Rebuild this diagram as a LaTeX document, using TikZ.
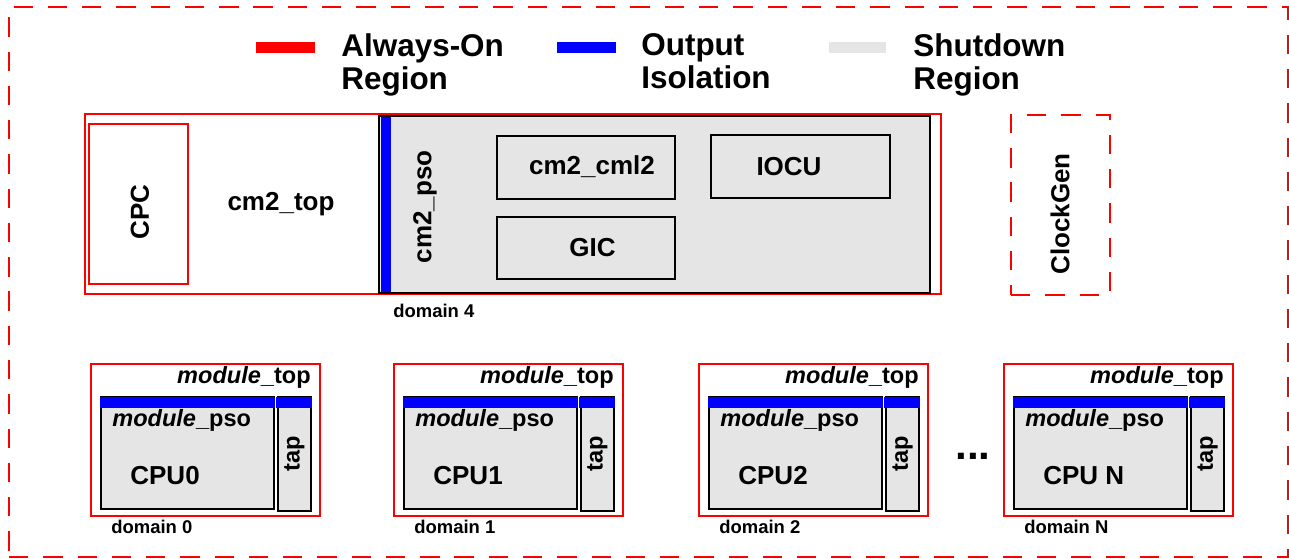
\documentclass[tikz,border=0pt]{standalone}
\usepackage{fontspec}
\setmainfont{Liberation Sans}
\definecolor{shutgray}{RGB}{229,229,229}

\begin{document}
\begin{tikzpicture}[line join=miter,
  box/.style={rectangle,inner sep=0pt,outer sep=0pt},
  aon/.style={box,draw=red,line width=.75pt},
  pso/.style={box,draw=black,fill=shutgray,line width=.85pt},
  blk/.style={box,draw=black,line width=.85pt},
  iso/.style={box,fill=blue},
  dashbox/.style={box,draw=red,line width=1.1pt,dash pattern=on 11pt off 8.5pt},
  lbl/.style={inner sep=0pt,font=\fontsize{14.8}{17}\selectfont\bfseries},
  modlbl/.style={inner sep=0pt,font=\fontsize{13.4}{15}\selectfont\bfseries},
  domlbl/.style={inner sep=0pt,font=\fontsize{10.5}{12}\selectfont\bfseries},
  legtxt/.style={inner sep=0pt,align=left,anchor=west,font=\fontsize{17.9}{18.8}\selectfont\bfseries}]
\path[use as bounding box] (0,0) rectangle (25.78,11.18);
\node[dashbox,minimum width=25.58cm,minimum height=11.00cm] (chip) at (12.97,5.54) {};
% legend
\node[iso,fill=red,minimum width=1.18cm,minimum height=.22cm] (legaon) at (5.71,10.23) {};
\node[legtxt] (legaontxt) at (6.82,9.88) {Always-On\\Region};
\node[iso,minimum width=1.18cm,minimum height=.22cm] (legiso) at (11.73,10.23) {};
\node[legtxt] (legisotxt) at (12.82,9.95) {Output\\Isolation};
\node[iso,fill=shutgray,minimum width=1.14cm,minimum height=.22cm] (legshut) at (17.15,10.23) {};
\node[legtxt] (legshuttxt) at (18.26,9.88) {Shutdown\\Region};
% cm2
\node[aon,minimum width=17.12cm,minimum height=3.60cm] (cmtop) at (10.26,7.10) {};
\node[aon,minimum width=1.98cm,minimum height=3.20cm] (cpc) at (2.77,7.10) {};
\node[lbl,rotate=90] (cpctxt) at (2.80,6.94) {CPC};
\node[lbl] (cmtoptxt) at (5.62,7.10) {cm2\_top};
\node[pso,line width=1pt,minimum width=11.02cm,minimum height=3.54cm] (cmpso) at (13.09,7.09) {};
\node[iso,minimum width=.20cm,minimum height=3.51cm] (cmiso) at (7.72,7.085) {};
\node[lbl,rotate=90] (cmpsotxt) at (8.50,7.04) {cm2\_pso};
\node[blk,minimum width=3.56cm,minimum height=1.26cm] (cml) at (11.72,7.83) {};
\node[lbl] (cmltxt) at (11.84,7.84) {cm2\_cml2};
\node[blk,minimum width=3.56cm,minimum height=1.24cm] (gic) at (11.72,6.22) {};
\node[lbl] (gictxt) at (11.85,6.22) {GIC};
\node[blk,minimum width=3.58cm,minimum height=1.26cm] (iocu) at (16.01,7.85) {};
\node[lbl] (iocutxt) at (15.78,7.84) {IOCU};
\node[domlbl,anchor=base west] (dom4) at (7.86,4.82) {domain 4};
\node[dashbox,minimum width=1.98cm,minimum height=3.60cm] (clk) at (21.21,7.08) {};
\node[lbl,rotate=90] (clktxt) at (21.20,6.90) {ClockGen};
% domain 0
\node[aon,minimum width=4.58cm,minimum height=3.04cm] (top0) at (4.11,2.38) {};
\node[pso,minimum width=3.46cm,minimum height=2.24cm] (pso0) at (3.75,2.12) {};
\node[iso,minimum width=3.50cm,minimum height=.22cm] (iso0) at (3.75,3.13) {};
\node[pso,minimum width=.66cm,minimum height=2.28cm] (tap0) at (5.89,2.10) {};
\node[iso,minimum width=.72cm,minimum height=.22cm] (tapiso0) at (5.88,3.13) {};
\node[modlbl,anchor=base east] (toptxt0) at (6.22,3.50) {\itshape module\upshape\_top};
\node[modlbl,anchor=base west] (psotxt0) at (2.24,2.64) {\itshape module\upshape\_pso};
\node[lbl,anchor=base west] (cpu0) at (2.60,1.48) {CPU0};
\node[modlbl,rotate=90] (taptxt0) at (tap0) {tap};
\node[domlbl,anchor=base west] (dom0) at (2.22,.50) {domain 0};
% domain 1
\node[aon,minimum width=4.58cm,minimum height=3.04cm] (top1) at (10.17,2.38) {};
\node[pso,minimum width=3.46cm,minimum height=2.24cm] (pso1) at (9.81,2.12) {};
\node[iso,minimum width=3.50cm,minimum height=.22cm] (iso1) at (9.81,3.13) {};
\node[pso,minimum width=.66cm,minimum height=2.28cm] (tap1) at (11.95,2.10) {};
\node[iso,minimum width=.72cm,minimum height=.22cm] (tapiso1) at (11.94,3.13) {};
\node[modlbl,anchor=base east] (toptxt1) at (12.28,3.50) {\itshape module\upshape\_top};
\node[modlbl,anchor=base west] (psotxt1) at (8.30,2.64) {\itshape module\upshape\_pso};
\node[lbl,anchor=base west] (cpu1) at (8.66,1.48) {CPU1};
\node[modlbl,rotate=90] (taptxt1) at (tap1) {tap};
\node[domlbl,anchor=base west] (dom1) at (8.28,.50) {domain 1};
% domain 2
\node[aon,minimum width=4.58cm,minimum height=3.04cm] (top2) at (16.27,2.38) {};
\node[pso,minimum width=3.46cm,minimum height=2.24cm] (pso2) at (15.91,2.12) {};
\node[iso,minimum width=3.50cm,minimum height=.22cm] (iso2) at (15.91,3.13) {};
\node[pso,minimum width=.66cm,minimum height=2.28cm] (tap2) at (18.05,2.10) {};
\node[iso,minimum width=.72cm,minimum height=.22cm] (tapiso2) at (18.04,3.13) {};
\node[modlbl,anchor=base east] (toptxt2) at (18.38,3.50) {\itshape module\upshape\_top};
\node[modlbl,anchor=base west] (psotxt2) at (14.40,2.64) {\itshape module\upshape\_pso};
\node[lbl,anchor=base west] (cpu2) at (14.76,1.48) {CPU2};
\node[modlbl,rotate=90] (taptxt2) at (tap2) {tap};
\node[domlbl,anchor=base west] (dom2) at (14.38,.50) {domain 2};
\node[lbl,font=\fontsize{24}{26}\selectfont\bfseries,anchor=base] (dots) at (19.46,1.98) {...};
% domain N
\node[aon,minimum width=4.58cm,minimum height=3.04cm] (topN) at (22.37,2.38) {};
\node[pso,minimum width=3.46cm,minimum height=2.24cm] (psoN) at (22.01,2.12) {};
\node[iso,minimum width=3.50cm,minimum height=.22cm] (isoN) at (22.01,3.13) {};
\node[pso,minimum width=.66cm,minimum height=2.28cm] (tapN) at (24.15,2.10) {};
\node[iso,minimum width=.72cm,minimum height=.22cm] (tapisoN) at (24.14,3.13) {};
\node[modlbl,anchor=base east] (toptxtN) at (24.48,3.50) {\itshape module\upshape\_top};
\node[modlbl,anchor=base west] (psotxtN) at (20.50,2.64) {\itshape module\upshape\_pso};
\node[lbl,anchor=base west] (cpuN) at (20.86,1.48) {CPU N};
\node[modlbl,rotate=90] (taptxtN) at (tapN) {tap};
\node[domlbl,anchor=base west] (domN) at (20.48,.50) {domain N};
\end{tikzpicture}
\end{document}
